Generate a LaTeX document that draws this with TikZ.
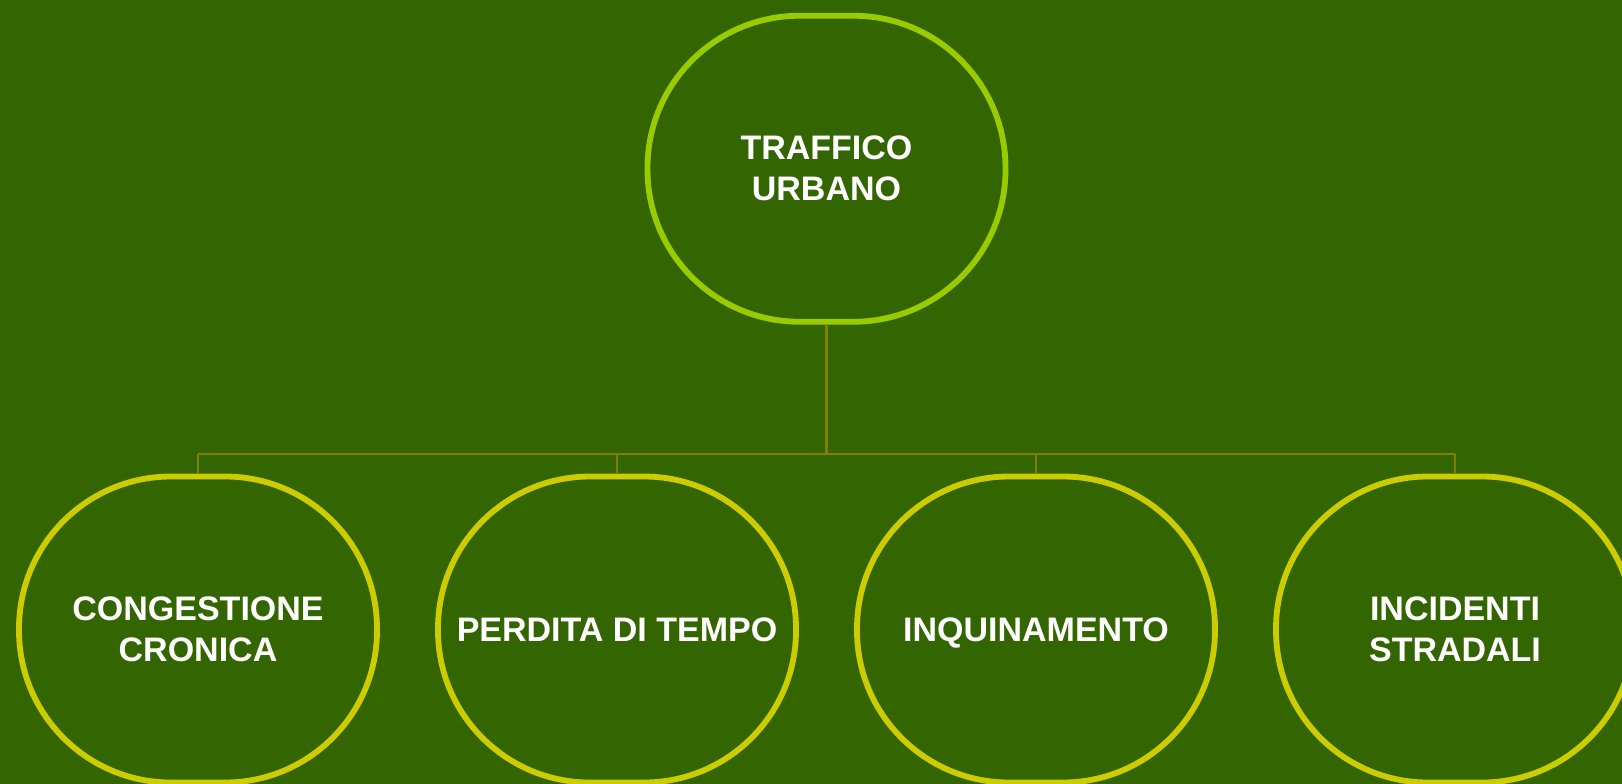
\documentclass[tikz,border=0pt]{standalone}
\usepackage{fontspec}
\setmainfont{Liberation Sans}
\definecolor{bgc}{HTML}{336600}
\definecolor{topc}{HTML}{99CC00}
\definecolor{subc}{HTML}{CCCC00}
\definecolor{linkc}{HTML}{808000}
\tikzset{
  blob/.style={rectangle, rounded corners=152pt, minimum width=358pt, minimum height=306pt,
    inner sep=0pt, line width=5.8pt, fill=bgc, text=white, align=center,
    font=\fontsize{34}{41}\selectfont\bfseries},
  topblob/.style={blob, draw=topc},
  subblob/.style={blob, draw=subc},
  oneline/.style={text depth=0pt},
  link/.style={draw=linkc, line width=2.5pt}
}
\begin{document}
\begin{tikzpicture}[x=1pt,y=-1pt]
\fill[bgc] (0,0) rectangle (1622,784);
\useasboundingbox (0,0) rectangle (1622,784);
\clip (0,0) rectangle (1622,784);
\coordinate (j) at (826.5,454);
\coordinate (j1) at (198,454);
\coordinate (j2) at (617,454);
\coordinate (j3) at (1036,454);
\coordinate (j4) at (1455,454);
\node[topblob] (top) at (826.5,168.75) {TRAFFICO\\URBANO};
\node[subblob] (c1) at (198,629.5) {CONGESTIONE\\CRONICA};
\node[subblob, oneline] (c2) at (617,629.5) {PERDITA DI TEMPO};
\node[subblob, oneline] (c3) at (1036,629.5) {INQUINAMENTO};
\node[subblob] (c4) at (1455,629.5) {INCIDENTI\\STRADALI};
\draw[link] (top.south) -- (j);
\draw[link] (j1) -- (j4);
\draw[link] (j1) -- (c1.north);
\draw[link] (j2) -- (c2.north);
\draw[link] (j3) -- (c3.north);
\draw[link] (j4) -- (c4.north);
\end{tikzpicture}
\end{document}
